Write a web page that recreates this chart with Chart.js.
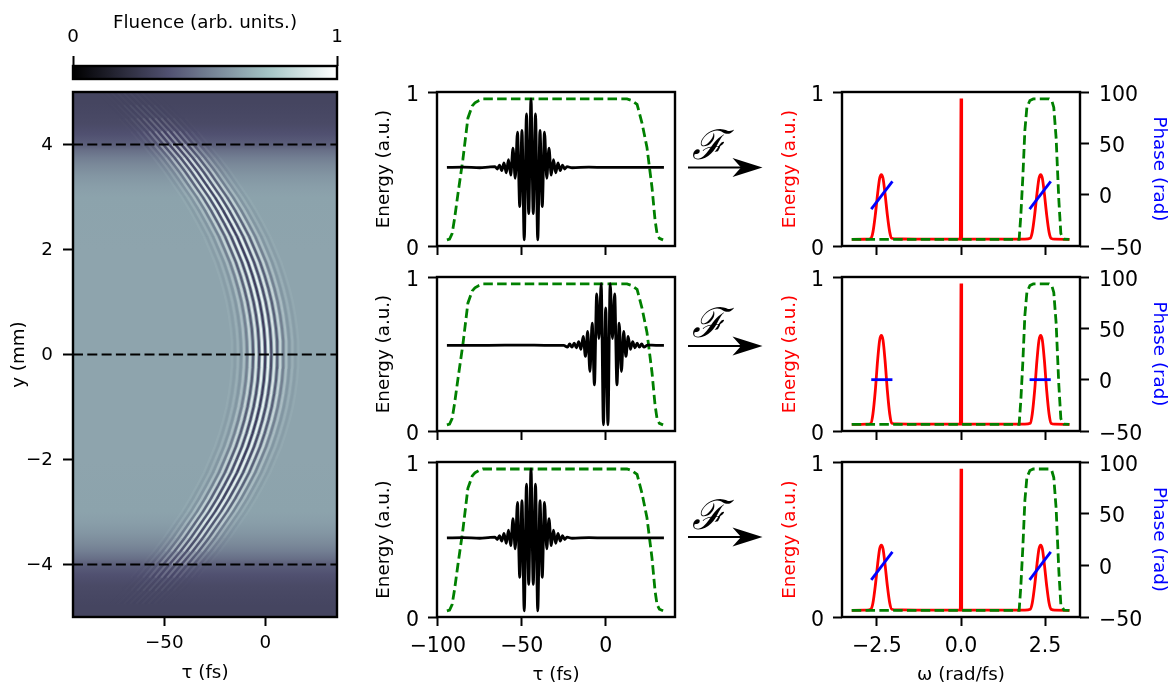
<!DOCTYPE html>
<html><head><meta charset="utf-8">
<script src="https://cdn.jsdelivr.net/npm/chart.js@4"></script>
<style>
html,body{margin:0;padding:0;background:#fff;width:1170px;height:684px;overflow:hidden}
canvas{position:absolute}
.F{position:absolute;font:italic 41px/50px "Liberation Serif";color:#000}
svg{position:absolute;left:0;top:0}
</style></head><body>
<svg id="arrows" width="1170" height="684"></svg>
<script>
const FONT='"DejaVu Sans"';
const bonePos=[0,0.365,0.746,1];
const boneR=[0,0.319,0.652,1];
const boneG=[0,0.319,0.777,1];
const boneB=[0,0.444,0.777,1];
const fluenceY=[5,4.8,4.6,4.4,4.2,4.03,3.97,3.9,3.75,3.6,3.4,3.2,3,2,0,-2,-3,-3.2,-3.4,-3.6,-3.75,-3.9,-3.97,-4.03,-4.2,-4.4,-4.6,-4.8,-5];
const fluenceV=[0.31,0.31,0.32,0.33,0.36,0.40,0.42,0.46,0.51,0.55,0.59,0.615,0.63,0.635,0.635,0.635,0.63,0.615,0.59,0.55,0.51,0.46,0.42,0.40,0.36,0.33,0.32,0.31,0.31];
const ridgeY=[-5,-4.75,-4.5,-4.25,-4,-3.75,-3.5,-3.25,-3,-2.75,-2.5,-2.25,-2,-1.75,-1.5,-1.25,-1,-0.75,-0.5,-0.25,0,0.25,0.5,0.75,1,1.25,1.5,1.75,2,2.25,2.5,2.75,3,3.25,3.5,3.75,4,4.25,4.5,4.75,5];
const ridgeTau=[-69,-62.5,-56,-50,-44.5,-39,-34,-29.5,-25,-21,-17.4,-14,-11.2,-8.5,-6.3,-4.4,-2.8,-1.6,-0.7,-0.2,0,-0.2,-0.7,-1.6,-2.8,-4.4,-6.3,-8.5,-11.2,-14,-17.4,-21,-25,-29.5,-34,-39,-44.5,-50,-56,-62.5,-69];
const darkFade=[0,0.03,0.14,0.32,0.58,0.75,0.82,0.88,0.92,0.95,0.97,0.98,1,1,1,1,1,1,1,1,1,1,1,1,1,1,1,1,1,0.98,0.97,0.95,0.92,0.88,0.82,0.75,0.58,0.32,0.14,0.03,0];
const lightFade=[0,0.02,0.07,0.18,0.38,0.62,0.78,0.86,0.92,0.95,0.97,0.98,1,1,1,1,1,1,1,1,1,1,1,1,1,1,1,1,1,0.98,0.97,0.95,0.92,0.86,0.78,0.62,0.38,0.18,0.07,0.02,0];
const darkOffsets=[-15,-12,-9,-6,-3,0,3,6,9,12,15];
const darkLevels=[0.06,0.12,0.3,0.6,0.75,0.88,0.75,0.6,0.3,0.12,0.06];
const lightOffsets=[-16.5,-13.5,-10.5,-7.5,-4.5,-1.5,1.5,4.5,7.5,10.5,13.5,16.5];
const lightLevels=[0.06,0.12,0.28,0.55,0.75,0.9,0.9,0.75,0.55,0.28,0.12,0.06];
const dashedY=[4,0,-4];
const envTau=[-94.6,-93,-91.5,-90,-88,-85.1,-82.1,-79.5,-77.9,-75.5,-73.2,12.7,15.5,18.7,21.6,24.6,27.6,29.4,30.6,32,34.2];
const envE=[0.04,0.045,0.08,0.18,0.34,0.56,0.83,0.91,0.93,0.945,0.955,0.955,0.945,0.92,0.8,0.64,0.38,0.17,0.08,0.05,0.04];
const pulseTau1=[-94.6,-85,-75,-70,-65.94,-64.6,-63.26,-61.92,-60.58,-59.24,-57.9,-56.56,-55.22,-53.88,-52.54,-51.2,-49.86,-48.52,-47.18,-45.84,-44.5,-43.16,-41.82,-40.48,-39.14,-37.8,-36.46,-35.12,-33.78,-32.44,-31.1,-29.76,-28.42,-27.08,-25.74,-24.4,-23.06,-20,-10,0,15,34.7];
const pulseE1=[0.51,0.512,0.508,0.512,0.515,0.50,0.525,0.49,0.54,0.475,0.56,0.46,0.635,0.44,0.74,0.256,0.75,0.04,0.857,0.21,0.955,0.21,0.857,0.04,0.75,0.256,0.74,0.44,0.635,0.46,0.56,0.475,0.54,0.49,0.525,0.50,0.515,0.508,0.512,0.51,0.51,0.51];
const pulseE3=pulseE1;
const pulseTau2=[-94.6,-70,-50,-35,-25,-22.78,-21.44,-20.1,-18.76,-17.42,-16.08,-14.74,-13.4,-12.06,-10.72,-9.38,-8.04,-6.7,-5.36,-4.02,-2.68,-1.34,0,1.34,2.68,4.02,5.36,6.7,8.04,9.38,10.72,12.06,13.4,14.74,16.08,17.42,18.76,20.1,21.44,22.78,25,30,34.7];
const pulseE2=[0.556,0.556,0.558,0.556,0.556,0.545,0.565,0.545,0.57,0.54,0.58,0.53,0.614,0.484,0.646,0.386,0.70,0.30,0.89,0.6,0.957,0.04,0.80,0.04,0.957,0.6,0.89,0.30,0.70,0.386,0.646,0.484,0.614,0.53,0.58,0.54,0.57,0.545,0.565,0.545,0.558,0.556,0.556];
const specW1=[-3.25,-2.8,-2.68,-2.62,-2.55,-2.48,-2.42,-2.37,-2.32,-2.26,-2.19,-2.12,-2.06,-1.9,-1,1,1.9,2.06,2.12,2.19,2.26,2.32,2.37,2.42,2.48,2.55,2.62,2.68,2.8,3.23];
const specE1=[0.043,0.044,0.05,0.09,0.2,0.34,0.44,0.464,0.44,0.34,0.2,0.09,0.05,0.046,0.044,0.044,0.044,0.05,0.09,0.2,0.34,0.44,0.464,0.44,0.34,0.2,0.09,0.05,0.044,0.043];
const specE2=[0.043,0.044,0.05,0.11,0.26,0.46,0.59,0.62,0.59,0.46,0.26,0.11,0.05,0.046,0.044,0.044,0.044,0.05,0.11,0.26,0.46,0.59,0.62,0.59,0.46,0.26,0.11,0.05,0.044,0.043];
const specE3=specE1;
const spikeW=[-0.02,0,0.02];
const spikeE=[0.044,0.957,0.044];
const filterW=[-3.25,1.73,1.78,1.84,1.9,1.96,2.05,2.15,2.62,2.7,2.76,2.83,2.91,2.97,3.06,3.22];
const filterE=[0.043,0.043,0.2,0.45,0.75,0.9,0.945,0.955,0.955,0.945,0.9,0.7,0.3,0.08,0.045,0.043];
const phaseWL=[-2.67,-2.04];
const phaseWR=[2.04,2.67];
const phase1=[-14,13];
const phase2=[0,0];
const phase3=[-14,13];
const heatXTicks=[-50,0];
const heatYTicks=[-4,-2,0,2,4];
const cbTicks=[0,1];
const timeTicks=[-100,-50,0];
const freqTicks=[-2.5,0,2.5];
const energyTicks=[0,1];
const phaseTicks=[-50,0,50,100];
const rows=[[92,246],[277,431],[462,617]];
const RED='#ff0000',GREEN='#008000',BLUE='#0000ff';
const TICK=20.5, LAB=18.3;
const zip=(a,b)=>a.map((v,i)=>({x:v,y:b[i]}));
const minus=s=>String(s).replace('-','\u2212');
function bone(t){
  const ch=(arr)=>{for(let i=1;i<bonePos.length;i++){if(t<=bonePos[i]){const f=(t-bonePos[i-1])/(bonePos[i]-bonePos[i-1]);return arr[i-1]+f*(arr[i]-arr[i-1]);}}return 1;};
  return `rgb(${Math.round(ch(boneR)*255)},${Math.round(ch(boneG)*255)},${Math.round(ch(boneB)*255)})`;
}
const boxPlugin={id:'box',afterDraw(c){const a=c.chartArea,x=c.ctx;x.save();x.strokeStyle='#000';x.lineWidth=2.4;
  x.strokeRect(a.left,a.top,a.right-a.left,a.bottom-a.top);x.restore();}};
function mount(rect,cfg){
  const cv=document.createElement('canvas');
  cv.width=rect.w;cv.height=rect.h;cv.style.left=rect.x+'px';cv.style.top=rect.y+'px';
  cv.style.width=rect.w+'px';cv.style.height=rect.h+'px';
  document.body.appendChild(cv);
  cfg.options=Object.assign({responsive:false,animation:false,devicePixelRatio:1,
    plugins:{legend:{display:false},tooltip:{enabled:false}},
    elements:{point:{radius:0}}},cfg.options);
  cfg.plugins=[boxPlugin];
  return new Chart(cv,cfg);
}
function axis(o){
  const s={type:'linear',position:o.pos,min:o.min,max:o.max,
    grid:{drawOnChartArea:false,drawTicks:true,tickLength:o.tl||9,tickWidth:2,tickColor:'#000',display:true},
    border:{display:false},
    afterBuildTicks(sc){sc.ticks=o.ticks.map(v=>({value:v}));},
    ticks:{autoSkip:false,maxRotation:0,minRotation:0,color:'#000',padding:o.pad==null?9:o.pad,
      labelOffset:o.lo||0,
      font:{family:FONT,size:o.fs||TICK},
      callback:o.fmt||(v=>minus(v))},
    afterFit(sc){if(o.pos==='left'||o.pos==='right')sc.width=o.size;else sc.height=o.size;}
  };
  if(o.title)s.title={display:true,text:o.title,color:o.tc||'#000',padding:0,font:{family:FONT,size:LAB}};
  return s;
}
const noLabel=()=>'';
mount({x:0,y:12,w:400,h:78},{type:'line',
  data:{datasets:[{data:zip([0,1],[1,1]),borderWidth:0,fill:{value:0},
    backgroundColor(ctx){const c=ctx.chart,a=c.chartArea;if(!a)return '#000';
      const g=c.ctx.createLinearGradient(a.left,0,a.right,0);
      for(let i=0;i<=50;i++)g.addColorStop(i/50,bone(i/50));return g;}}]},
  options:{layout:{padding:{left:73,right:63,bottom:11}},
    scales:{x:axis({pos:'top',min:0,max:1,ticks:cbTicks,size:54,tl:10,fs:LAB,pad:8,title:'Fluence (arb. units.)',fmt:v=>String(v)}),
      y:{display:false,min:0,max:1}}}});
const heatSets=[];
heatSets.push({data:zip([-95.2,35.5],[5,5]),borderWidth:0,fill:{value:-5},order:100,
  backgroundColor(ctx){const c=ctx.chart,a=c.chartArea;if(!a)return '#000';
    const g=c.ctx.createLinearGradient(0,a.top,0,a.bottom),ys=c.scales.y;
    fluenceY.forEach((y,i)=>{const o=(ys.getPixelForValue(y)-a.top)/(a.bottom-a.top);g.addColorStop(Math.min(1,Math.max(0,o)),bone(fluenceV[i]));});return g;}});
const fringe=(off,lvl,rgb,ord,fade)=>({data:ridgeY.map((y,i)=>({x:ridgeTau[i]+off,y})),borderWidth:2.1,order:ord,
  borderColor:`rgba(${rgb},${lvl})`,
  segment:{borderColor:c=>`rgba(${rgb},${(lvl*fade[c.p0DataIndex]).toFixed(3)})`}});
lightOffsets.forEach((o,i)=>heatSets.push(fringe(o,lightLevels[i],'240,248,248',50,lightFade)));
darkOffsets.forEach((o,i)=>heatSets.push(fringe(o,darkLevels[i],'52,48,84',40,darkFade)));
dashedY.forEach(y=>heatSets.push({data:zip([-95.2,35.5],[y,y]),borderColor:'#000',borderWidth:2.2,borderDash:[10,4.3],order:1}));
mount({x:8,y:64,w:352,h:620},{type:'line',data:{datasets:heatSets},
  options:{layout:{padding:{right:23,top:28}},
    scales:{x:axis({pos:'bottom',min:-95.2,max:35.5,ticks:heatXTicks,size:67,fs:LAB,pad:6,title:'\u03c4 (fs)'}),
      y:axis({pos:'left',min:-5,max:5,ticks:heatYTicks,size:65,tl:10,fs:LAB,pad:10,lo:1,title:'y (mm)'})}}});
const pulses=[[pulseTau1,pulseE1],[pulseTau2,pulseE2],[pulseTau1,pulseE3]];
const specs=[specE1,specE2,specE3],phases=[phase1,phase2,phase3];
rows.forEach((r,i)=>{
  const M=26,last=i===2,top=r[0]-M,botM=last?69:M,h=r[1]+botM-top;
  mount({x:373,y:top,w:320,h},{type:'line',data:{datasets:[
    {data:zip(pulses[i][0],pulses[i][1]),borderColor:'#000',borderWidth:2.8,cubicInterpolationMode:'monotone',order:1},
    {data:zip(envTau,envE),borderColor:GREEN,borderWidth:2.8,borderDash:[9.5,4.3],order:2}]},
    options:{layout:{padding:{top:M,right:18}},
      scales:{x:axis({pos:'bottom',min:-100.5,max:41.3,ticks:timeTicks,size:botM,pad:8,title:last?'\u03c4 (fs)':undefined,fmt:last?undefined:noLabel}),
        y:axis({pos:'left',min:0,max:1,ticks:energyTicks,size:64,lo:3.5,title:'Energy (a.u.)',fmt:v=>String(v)})}}});
  mount({x:779,y:top,w:391,h},{type:'line',data:{datasets:[
    {data:zip(specW1,specs[i]),borderColor:RED,borderWidth:2.8,order:3,yAxisID:'y',cubicInterpolationMode:'monotone'},
    {data:zip(spikeW,spikeE),borderColor:RED,borderWidth:2.8,order:3,yAxisID:'y'},
    {data:zip(filterW,filterE),borderColor:GREEN,borderWidth:2.8,borderDash:[9.5,4.3],order:2,yAxisID:'y'},
    {data:zip(phaseWL,phases[i]),borderColor:BLUE,borderWidth:2.8,order:1,yAxisID:'y2'},
    {data:zip(phaseWR,phases[i]),borderColor:BLUE,borderWidth:2.8,order:1,yAxisID:'y2'}]},
    options:{layout:{padding:{top:M}},
      scales:{x:axis({pos:'bottom',min:-3.54,max:3.54,ticks:freqTicks,size:botM,pad:8,title:last?'\u03c9 (rad/fs)':undefined,fmt:last?(v=>minus(v.toFixed(1))):noLabel}),
        y:axis({pos:'left',min:0,max:1,ticks:energyTicks,size:63,lo:3.5,title:'Energy (a.u.)',tc:RED,fmt:v=>String(v)}),
        y2:axis({pos:'right',min:-50,max:100,ticks:phaseTicks,size:90,pad:10,lo:3.5,title:'Phase (rad)',tc:BLUE})}}});
});
const arrowY=[167.5,346,537], fY=[142.5,320.5,512.5];
let svg='';
arrowY.forEach((y,i)=>{
  svg+=`<line x1="688" x2="745" y1="${y}" y2="${y}" stroke="#000" stroke-width="1.8"/>`;
  svg+=`<path d="M732.5 ${y-9.5} L762.5 ${y} L732.5 ${y+9.5} L741 ${y} Z" fill="#000"/>`;
  const d=document.createElement('div');d.className='F';d.textContent='\u2131';
  d.style.left='692px';d.style.top=(fY[i]-23)+'px';document.body.appendChild(d);
});
document.getElementById('arrows').innerHTML=svg;
</script>
</body></html>
